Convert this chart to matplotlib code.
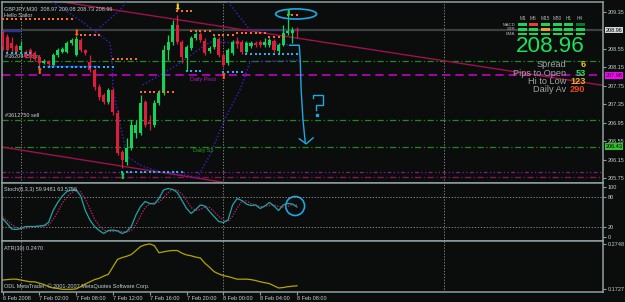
import numpy as np
import matplotlib.pyplot as plt
from matplotlib.patches import Ellipse, Rectangle

plt.rcParams['font.family'] = ['Liberation Sans', 'DejaVu Sans']

W, H = 625, 302
BG = '#0b0d0d'

# GBPJPY M30 bars
opens = [208.89, 208.81, 208.68, 208.61, 208.53, 208.48, 208.53, 208.46, 208.37, 208.24,
         208.29, 208.20, 208.42, 208.48, 208.48, 208.68, 208.42, 208.74, 208.53, 208.27,
         208.09, 207.72, 207.55, 207.40, 207.66, 207.16, 206.31, 206.10, 206.40, 206.73,
         206.73, 207.40, 206.96, 206.90, 207.38, 207.59, 208.53, 208.70, 209.07, 208.70,
         208.35, 208.57, 208.79, 208.87, 208.72, 208.50, 208.59, 208.76, 208.42, 208.24,
         208.46, 208.72, 208.70, 208.48, 208.61, 208.68, 208.70, 208.63, 208.63, 208.72,
         208.50, 208.63, 208.89, 208.89, 208.99]
highs = [208.96, 208.87, 208.81, 208.66, 208.72, 208.53, 208.57, 208.50, 208.42, 208.33,
         208.31, 208.46, 208.57, 208.59, 208.72, 208.79, 208.83, 208.79, 208.55, 208.42,
         208.14, 207.79, 207.59, 207.70, 207.70, 207.22, 206.36, 206.62, 207.01, 207.01,
         207.55, 207.44, 207.11, 207.44, 207.66, 208.63, 208.85, 209.18, 209.29, 208.74,
         208.63, 208.83, 208.92, 208.92, 208.79, 208.61, 208.83, 208.81, 208.46, 208.57,
         208.74, 208.81, 208.74, 208.72, 208.72, 208.72, 208.74, 208.79, 208.79, 208.76,
         208.68, 209.07, 209.42, 209.02, 209.02]
lows = [208.53, 208.48, 208.46, 208.44, 208.42, 208.35, 208.31, 208.29, 208.18, 208.22,
        208.18, 208.18, 208.37, 208.46, 208.46, 208.63, 208.40, 208.48, 208.42, 208.05,
        207.66, 207.44, 207.35, 207.35, 207.11, 206.25, 205.97, 206.03, 206.36, 206.62,
        206.68, 206.86, 206.79, 206.86, 207.33, 207.55, 208.31, 208.63, 208.66, 208.24,
        208.09, 208.53, 208.74, 208.70, 208.42, 208.46, 208.55, 208.37, 208.16, 208.20,
        208.42, 208.57, 208.44, 208.44, 208.57, 208.59, 208.59, 208.59, 208.59, 208.48,
        208.46, 208.61, 208.85, 208.68, 208.79]
closes = [208.59, 208.53, 208.57, 208.48, 208.61, 208.37, 208.37, 208.33, 208.24, 208.29,
          208.22, 208.42, 208.53, 208.55, 208.68, 208.74, 208.76, 208.53, 208.46, 208.09,
          207.72, 207.51, 207.40, 207.66, 207.18, 206.29, 206.14, 206.40, 206.90, 206.90,
          207.38, 206.90, 206.92, 207.38, 207.59, 208.53, 208.70, 209.07, 208.70, 208.37,
          208.59, 208.79, 208.87, 208.74, 208.46, 208.57, 208.79, 208.42, 208.20, 208.53,
          208.70, 208.66, 208.48, 208.68, 208.68, 208.63, 208.63, 208.70, 208.74, 208.53,
          208.63, 208.89, 208.94, 208.96, 208.96]

stoch_main = [37, 27, 16, 15, 17, 21, 21, 21, 22, 23, 29, 53, 69, 82, 91, 94, 94, 82, 53, 34,
              21, 13, 7, 13, 14, 12, 7, 11, 21, 44, 61, 71, 67, 66, 77, 94, 97, 95, 89, 73,
              57, 47, 55, 64, 62, 51, 41, 31, 29, 34, 64, 77, 73, 66, 63, 64, 57, 62, 69, 62,
              53, 64, 67, 66, 60]
stoch_signal = [40, 33, 25, 19, 16, 17, 19, 21, 21, 22, 24, 35, 50, 68, 80, 89, 93, 90, 76, 56,
                36, 23, 14, 11, 11, 13, 11, 10, 13, 25, 42, 59, 66, 68, 70, 79, 89, 95, 94, 86,
                73, 59, 53, 55, 60, 59, 51, 41, 34, 31, 42, 58, 71, 72, 67, 64, 61, 61, 63, 64,
                61, 60, 61, 65, 64]
atr = [0.193, 0.194, 0.195, 0.195, 0.193, 0.191, 0.189, 0.189, 0.186, 0.183,
       0.178, 0.175, 0.174, 0.172, 0.172, 0.172, 0.173, 0.178, 0.184, 0.189,
       0.194, 0.197, 0.202, 0.206, 0.223, 0.240, 0.244, 0.247, 0.251, 0.260,
       0.269, 0.273, 0.275, 0.271, 0.255, 0.257, 0.259, 0.260, 0.260, 0.254,
       0.250, 0.248, 0.245, 0.243, 0.231, 0.222, 0.212, 0.207, 0.203, 0.201,
       0.198, 0.195, 0.195, 0.195, 0.194, 0.192, 0.189, 0.187, 0.185, 0.180,
       0.175, 0.176, 0.178, 0.179, 0.180]

time_bars = [0, 8, 16, 24, 32, 40, 48, 56, 64]
time_labels = ['6 Feb 2008', '7 Feb 02:00', '7 Feb 08:00', '7 Feb 12:00', '7 Feb 16:00',
               '7 Feb 20:00', '8 Feb 00:00', '8 Feb 04:00', '8 Feb 08:00']
grid_bars = [4, 48, 96]
price_ticks = [209.35, 208.55, 208.15, 207.75, 207.35, 206.95, 206.55, 206.15, 205.75]

# band lines (bar, price)
band_low_x = [9.2, 11.9, 17.5, 23.4, 23.8, 24.0, 24.5, 25.8, 27.3, 29.9, 34.2, 40.1, 42.3,
              45.1, 48.4, 51.6, 53.8, 64.7]
band_low_y = [209.65, 209.50, 209.13, 208.68, 208.27, 207.72, 207.44, 206.79, 206.20, 206.03,
              205.88, 205.81, 205.75, 206.25, 207.05, 207.66, 208.27, 208.31]
band_up_x = [19.7, 21.2, 25.5, 27.7]
band_up_y = [208.85, 209.02, 209.39, 209.68]
band_up2_x = [48.4, 49.0, 51.6, 53.8, 64.7]
band_up2_y = [209.68, 209.57, 209.24, 208.96, 208.94]
band_mid_x = [30.5, 34.2, 37.9, 41.8, 45.1, 53.8, 64.7]
band_mid_y = [207.77, 207.98, 208.20, 208.48, 208.70, 208.68, 208.63]
flat_blue = [(-0.5, 3.8, 208.94), (9.7, 20.5, 208.18)]

# dotted level markers: (first bar, last bar, price)
orange_rows = [(0, 15, 209.20), (17, 21, 208.85), (24, 29, 208.33), (30, 37, 207.61),
               (38, 41, 209.37), (41, 45, 208.94), (46, 50, 208.85), (51, 57, 208.89),
               (58, 61, 208.81), (62, 64, 209.28)]
cyan_rows = [(1, 6, 208.46), (8, 24, 208.16), (26, 39, 205.88), (40, 43, 208.07),
             (48, 52, 208.05), (53, 64, 208.44)]

# arrows: bar, price, glyph, colour
arrow_bars = [8, 16, 48, 38, 62, 26]
arrow_prices = [208.06, 208.89, 207.96, 209.46, 209.33, 205.79]
arrow_glyphs = ['⬆', '⬇', '⬆', '⬇', '⬇', '⬆']
arrow_colors = ['#ff5a1e', '#ff5a1e', '#ff5a1e', '#ffd400', '#18d24a', '#18d24a']

# trend lines
trend1 = ([13.2, 130.5], [209.57, 207.76])
trend2 = ([-0.1, 49.0], [206.42, 205.64])

# hand drawings
pen_x = [62.4, 64.5, 64.7, 64.9, 65.3, 65.8]
pen_y = [208.63, 208.63, 208.31, 207.66, 207.01, 206.51]
head_x = [64.5, 66.0, 67.5]
head_y = [206.60, 206.49, 206.62]
quest_x = [67.5, 67.5, 69.7, 69.7, 68.2, 68.2]
quest_y = [207.48, 207.55, 207.55, 207.33, 207.33, 207.22]
quest_dot = (68.4, 207.12)

tf_names = ['M1', 'M5', 'M15', 'M30', 'H1', 'H4']
row_names = ['MACD', 'STR', 'EMA']
sig_macd = ['#1ed25a', '#e8402a', '#1ed25a', '#1ed25a', '#1ed25a', '#0a7a2a']
sig_str = ['#1ed25a', '#1ed25a', '#f0a020', '#1ed25a', '#1ed25a', '#1ed25a']
sig_ema = ['#1ed25a', '#1ed25a', '#1ed25a', '#1ed25a', '#1ed25a', '#1ed25a']
stat_names = ['Spread', 'Pips to Open', 'Hi to Low', 'Daily Av']
stat_values = ['6', '53', '123', '290']
stat_colors = ['#f0c814', '#1ee05a', '#f0b41e', '#f0461e']

TXT = '#c4cccc'
FS = 4.0

fig = plt.figure(figsize=(W / 100, H / 100), dpi=100, facecolor=BG)


def panel(top, bottom):
    a = fig.add_axes([2 / W, 1 - bottom / H, 601 / W, (bottom - top) / H])
    a.set_facecolor(BG)
    for s in a.spines.values():
        s.set_color('#8fa0a0')
        s.set_linewidth(1.1)
    a.yaxis.tick_right()
    a.tick_params(axis='y', colors='#8fa0a0', labelcolor=TXT, labelsize=FS, length=2, pad=1.2)
    a.tick_params(axis='x', bottom=False, labelbottom=False)
    a.set_xlim(-0.11, 130.5)
    for g in grid_bars:
        a.axvline(g, color='#9a9a9a', lw=0.6, ls=(0, (1.5, 2)), zorder=1)
    return a


ax = panel(2, 183)
ax_st = panel(183, 241)
ax_atr = panel(241, 292)
ax.set_ylim(205.64, 209.57)
ax_st.set_ylim(-8, 108)
ax_atr.set_ylim(0.1659, 0.2816)

# ---- main panel ----
ax.set_yticks(price_ticks)
ax.set_yticklabels([f'{p:.2f}' for p in price_ticks])

ax.axhline(208.96, color='#3c4040', lw=1.6, zorder=1)
ax.axhline(207.98, color='#c400c4', lw=1.2, ls=(0, (5, 3)), zorder=2)
for lv in [208.29, 207.01, 206.43]:
    ax.axhline(lv, color='#1e8a1e', lw=0.9, ls=(0, (5, 2, 1, 2)), zorder=2)
ax.axhline(205.88, color='#8a1a8a', lw=0.9, ls=(0, (3, 2, 1, 2, 1, 2)), zorder=2)
ax.axhline(205.77, color='#8a1660', lw=0.9, ls=(0, (5, 2, 1, 2)), zorder=2)

ax.plot(*trend1, color='#a0104a', lw=1.0, zorder=2)
ax.plot(*trend2, color='#a0104a', lw=1.0, zorder=2)

for bx, by in [(band_low_x, band_low_y), (band_up_x, band_up_y), (band_up2_x, band_up2_y),
               (band_mid_x, band_mid_y)]:
    ax.plot(bx, by, color='#3a22c8', lw=1.0, ls=(0, (1, 1.5)), zorder=3)
for x0, x1, lv in flat_blue:
    ax.plot([x0, x1], [lv, lv], color='#2828c8', lw=1.0, zorder=3)

xb = np.arange(len(opens))
o = np.array(opens)
c = np.array(closes)
col = np.where(c >= o, '#14d25a', '#dc1e3c')
ax.vlines(xb, lows, highs, colors=col, lw=0.9, zorder=4)
ax.bar(xb, np.maximum(np.abs(c - o), 0.012), bottom=np.minimum(o, c), width=0.66,
       color=col, linewidth=0, zorder=5)

for x0, x1, lv in orange_rows:
    xs = np.arange(x0, x1 + 1)
    ax.scatter(xs, [lv] * len(xs), marker='s', s=2.2, color='#ff6a2a', linewidths=0, zorder=6)
for x0, x1, lv in cyan_rows:
    xs = np.arange(x0, x1 + 1)
    ax.scatter(xs, [lv] * len(xs), marker='s', s=2.2, color='#1eb4f0', linewidths=0, zorder=6)

for bx, by, g, cl in zip(arrow_bars, arrow_prices, arrow_glyphs, arrow_colors):
    ax.text(bx, by, g, color=cl, fontsize=6.5, ha='center', va='center',
            family='DejaVu Sans', zorder=7)

ax.add_patch(Ellipse((63.8, 209.31), 8.9, 0.22, fill=False, ec='#1ea8e0', lw=1.2, zorder=7))
ax.plot(pen_x, pen_y, color='#1ea8e0', lw=1.0, zorder=7)
ax.plot(head_x, head_y, color='#1ea8e0', lw=1.0, zorder=7)
ax.plot(quest_x, quest_y, color='#1ea8e0', lw=1.0, zorder=7)
ax.plot(*quest_dot, marker='s', ms=1.5, color='#1ea8e0', zorder=7)

ax.text(0.004, 0.975, 'GBPJPY,M30  208.97 209.08 208.73 208.96', transform=ax.transAxes,
        fontsize=FS, color=TXT, va='top')
ax.text(0.004, 0.94, 'Hello Sailor', transform=ax.transAxes, fontsize=FS, color=TXT, va='top')
ax.text(0.5, 208.33, '#3620445 buy', fontsize=FS, color=TXT, va='bottom')
ax.text(0.5, 207.05, '#3612750 sell', fontsize=FS, color=TXT, va='bottom')
ax.text(40.8, 207.94, 'Daily Pivot', fontsize=FS, color='#b020b0', va='top')
ax.text(41.4, 206.39, 'Daily S1', fontsize=FS, color='#22a022', va='top')

ytr = ax.get_yaxis_transform()
for lv, fc in [(208.96, '#d0d8d8'), (207.98, '#ff00ff'), (206.43, '#30c030')]:
    ax.text(1.004, lv, f'{lv:.2f}', transform=ytr, fontsize=FS, color='black', ha='left',
            va='center', bbox=dict(boxstyle='square,pad=0.15', fc=fc, ec='none'), zorder=8,
            clip_on=False)

# ---- stochastic ----
ax_st.set_yticks([100, 80, 20, 0])
ax_st.set_yticklabels(['100', '80', '20', '0'])
for lv in [80, 20]:
    ax_st.axhline(lv, color='#9a9a9a', lw=0.6, ls=(0, (1.5, 2)))
ax_st.plot(xb, stoch_signal, color='#c8286e', lw=0.9, ls=(0, (1, 1.2)))
ax_st.plot(xb, stoch_main, color='#1fa5a5', lw=0.9)
ax_st.add_patch(Ellipse((63.6, 62), 4.1, 38, fill=False, ec='#1ea8e0', lw=1.2))
ax_st.text(0.004, 0.93, 'Stoch(8,3,3) 59.9481 63.5756', transform=ax_st.transAxes,
           fontsize=FS, color=TXT, va='top')

# ---- ATR ----
ax_atr.set_yticks([0.2748, 0.1727])
ax_atr.set_yticklabels(['0.2748', '0.1727'])
ax_atr.plot(xb, atr, color='#b4a400', lw=0.9)
ax_atr.text(0.004, 0.9, 'ATR(30) 0.2470', transform=ax_atr.transAxes, fontsize=FS, color=TXT,
            va='top')
ax_atr.text(0.004, 0.05, 'ODL MetaTrader, © 2001-2007 MetaQuotes Software Corp.',
            transform=ax_atr.transAxes, fontsize=FS, color=TXT, va='bottom')
ax_atr.set_xticks(time_bars)
ax_atr.set_xticklabels(time_labels)
ax_atr.tick_params(axis='x', bottom=True, labelbottom=True, colors='#8fa0a0', labelcolor=TXT,
                   labelsize=FS, length=2, pad=1)
for t in ax_atr.get_xticklabels():
    t.set_ha('left')

# ---- info panel (pixel overlay) ----
ov = fig.add_axes([0, 0, 1, 1])
ov.set_xlim(0, W)
ov.set_ylim(H, 0)
ov.axis('off')
ov.patch.set_alpha(0)
col_x = [522.5, 533.5, 545.5, 557.5, 568.5, 580]
row_y = [24.7, 29.3, 34.0]
for cx, name in zip(col_x, tf_names):
    ov.text(cx, 18.3, name, fontsize=3.4, color='#b0b0b0', ha='center', va='center')
for ry, name, sig in zip(row_y, row_names, [sig_macd, sig_str, sig_ema]):
    ov.text(515.5, ry, name, fontsize=3.2, color='#b0b0b0', ha='right', va='center')
    for cx, fc in zip(col_x, sig):
        ov.add_patch(Rectangle((cx - 4.5, ry - 1.4), 9, 2.8, fc=fc, ec='none'))
ov.text(550.5, 47, '208.96', fontsize=16.2, color='#19e35a', ha='center', va='center')
for sy, name, val, vc in zip([64.5, 73.3, 81.5, 90], stat_names, stat_values, stat_colors):
    ov.text(566, sy, name, fontsize=6.6, color='#a0a4a4', ha='right', va='center')
    ov.text(585.5, sy, val, fontsize=6.6, color=vc, ha='right', va='center', weight='bold')

fig.savefig('out.png', dpi=100, facecolor=BG)
